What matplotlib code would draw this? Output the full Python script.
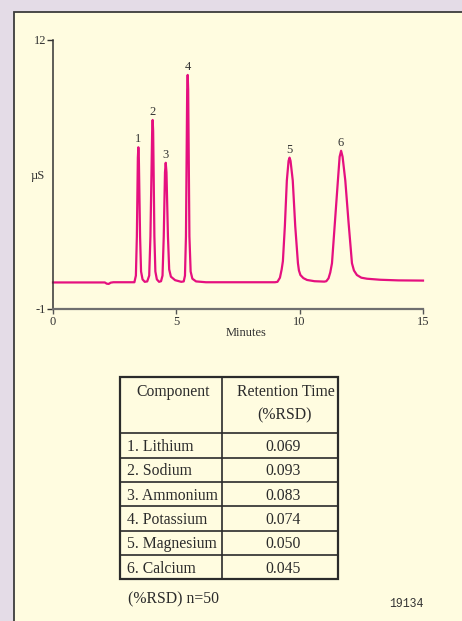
import matplotlib
matplotlib.use("Agg")
import matplotlib.pyplot as plt
from matplotlib.patches import Rectangle

# ---------------- data ----------------
trace_time = [0.0, 2.10, 2.18, 2.26, 2.34, 2.45, 3.30,
              3.36, 3.40, 3.44, 3.46, 3.48, 3.53, 3.57, 3.63, 3.72, 3.82,
              3.90, 3.95, 4.02, 4.04, 4.06, 4.11, 4.15, 4.21, 4.30, 4.38,
              4.44, 4.49, 4.54, 4.57, 4.60, 4.66, 4.71, 4.78, 4.95, 5.20, 5.30,
              5.35, 5.39, 5.44, 5.46, 5.48, 5.53, 5.58, 5.65, 5.80, 6.20,
              9.00, 9.10, 9.20, 9.27, 9.32, 9.40, 9.48, 9.55, 9.59, 9.63, 9.72,
              9.82, 9.93, 9.97, 10.03, 10.15, 10.30, 10.60, 11.00,
              11.08, 11.17, 11.24, 11.31, 11.43, 11.55, 11.62, 11.68, 11.74,
              11.85, 11.98, 12.12, 12.20, 12.32, 12.50, 12.73, 13.27, 14.00, 15.00]
trace_signal = [0.27, 0.27, 0.21, 0.20, 0.26, 0.28, 0.28,
                0.60, 2.50, 6.30, 6.81, 6.30, 2.50, 0.80, 0.42, 0.30, 0.32,
                0.60, 2.50, 7.60, 8.13, 7.60, 2.50, 0.80, 0.42, 0.30, 0.33,
                0.60, 2.50, 5.60, 6.06, 5.60, 2.50, 0.90, 0.55, 0.38, 0.30, 0.32,
                0.60, 2.50, 9.60, 10.31, 9.60, 2.50, 0.80, 0.45, 0.32, 0.28,
                0.28, 0.30, 0.50, 0.90, 1.30, 3.00, 5.20, 6.15, 6.31, 6.15, 5.20,
                3.00, 1.20, 0.85, 0.63, 0.48, 0.39, 0.33, 0.31,
                0.33, 0.47, 0.75, 1.20, 3.20, 5.20, 6.35, 6.64, 6.35,
                5.20, 3.20, 1.20, 0.85, 0.63, 0.50, 0.45, 0.40, 0.37, 0.36]

peak_labels = ["1", "2", "3", "4", "5", "6"]
peak_times = [3.46, 4.04, 4.57, 5.46, 9.59, 11.68]
peak_heights = [6.81, 8.13, 6.06, 10.31, 6.31, 6.64]

x_ticks = [0, 5, 10, 15]
y_ticks = [-1, 12]

components = ["1. Lithium", "2. Sodium", "3. Ammonium",
              "4. Potassium", "5. Magnesium", "6. Calcium"]
rsd_values = ["0.069", "0.093", "0.083", "0.074", "0.050", "0.045"]
col_headers = ["Component", "Retention Time\n(%RSD)"]

# ---------------- figure ----------------
W, H = 462, 621
plt.rcParams["font.family"] = ["Liberation Serif", "DejaVu Serif"]
plt.rcParams["axes.unicode_minus"] = False
fig = plt.figure(figsize=(W / 100, H / 100), dpi=100, facecolor="#E4DCE7")

def fx(px):
    return px / W

def fy(py):
    return 1 - py / H

# cream panel on a background axes
bg = fig.add_axes([0, 0, 1, 1], zorder=-10)
bg.set_xlim(0, W)
bg.set_ylim(H, 0)
bg.axis("off")
bg.add_patch(Rectangle((13.5, 11.5), 600, 700, facecolor="#FFFCE0",
                       edgecolor="#3C3C3C", linewidth=1.3))

# chart axes
ax = fig.add_axes([fx(53), fy(308.7), fx(423) - fx(53), fy(40) - fy(308.7)])
ax.set_facecolor("none")
ax.set_xlim(0, 15)
ax.set_ylim(-1, 12)
ax.plot(trace_time, trace_signal, color="#E5107F", linewidth=1.6,
        solid_joinstyle="round", clip_on=False)

for lab, t, h in zip(peak_labels, peak_times, peak_heights):
    ax.annotate(lab, (t, h), xytext=(0, 1.5), textcoords="offset points",
                ha="center", va="bottom", fontsize=9, color="#333333")

for s in ["top", "right"]:
    ax.spines[s].set_visible(False)
ax.spines["left"].set_color("#333333")
ax.spines["left"].set_linewidth(1.1)
ax.spines["bottom"].set_color("#6F6F6F")
ax.spines["bottom"].set_linewidth(1.6)
ax.set_xticks(x_ticks)
ax.set_yticks(y_ticks)
ax.tick_params(axis="y", direction="out", length=4, width=1.0, color="#333333",
               labelsize=9, labelcolor="#333333", pad=1)
ax.tick_params(axis="x", direction="out", length=3.5, width=1.0, color="#555555",
               labelsize=9, labelcolor="#333333", pad=2)

fig.text(fx(37.5), fy(176), "µS", ha="center", va="center", fontsize=9,
         color="#333333")
fig.text(fx(246), fy(333), "Minutes", ha="center", va="center", fontsize=9,
         color="#333333")

# ---------------- table ----------------
tl, tr, tt, tb = 120, 338.3, 377.3, 579.3
colx = 222
fs = 11.3
tax = fig.add_axes([fx(tl), fy(tb), fx(tr) - fx(tl), fy(tt) - fy(tb)])
tax.set_xlim(tl, tr)
tax.set_ylim(tb, tt)
tax.axis("off")
tax.patch.set_visible(False)
header_bottom = 433.3
row_h = (tb - header_bottom) / len(components)
line_col = "#2B2B2B"
tax.add_patch(Rectangle((tl, tt), tr - tl, tb - tt, fill=False,
                        edgecolor=line_col, linewidth=1.6, clip_on=False))
tax.plot([colx, colx], [tt, tb], color=line_col, linewidth=1.2, clip_on=False)
for i in range(len(components)):
    yb = header_bottom + i * row_h
    tax.plot([tl, tr], [yb, yb], color=line_col, linewidth=1.2, clip_on=False)

tax.text((tl + colx) / 2 + 2, 392.5, col_headers[0], ha="center", va="center",
         fontsize=fs, color="#2B2B2B")
hdr2 = col_headers[1].split("\n")
tax.text(286, 392.5, hdr2[0], ha="center", va="center", fontsize=fs,
         color="#2B2B2B")
tax.text(285, 415.5, hdr2[1], ha="center", va="center", fontsize=fs,
         color="#2B2B2B")
for i, (c, v) in enumerate(zip(components, rsd_values)):
    yc = header_bottom + (i + 0.5) * row_h + 1.5
    tax.text(127, yc, c, ha="left", va="center", fontsize=fs, color="#2B2B2B")
    tax.text(283, yc, v, ha="center", va="center", fontsize=fs, color="#2B2B2B")

fig.text(fx(128), fy(599), "(%RSD) n=50", ha="left", va="center", fontsize=fs,
         color="#2B2B2B")
fig.text(fx(406), fy(604), "19134", ha="center", va="center", fontsize=8.3,
         family="Liberation Mono", color="#333333")

fig.savefig("out.png", dpi=100, facecolor=fig.get_facecolor())
